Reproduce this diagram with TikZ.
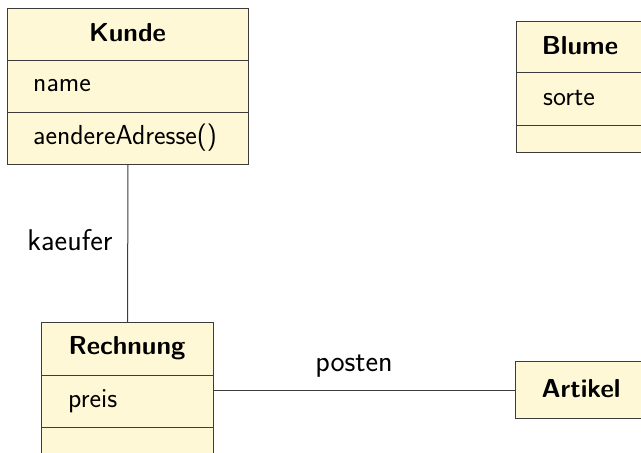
\documentclass[tikz,border=0pt]{standalone}
\usepackage{fontspec}
\setsansfont{Latin Modern Sans}
\definecolor{clsfill}{RGB}{255,248,214}
\definecolor{clsline}{RGB}{60,60,60}
\begin{document}
\begin{tikzpicture}[x=1pt,y=-1pt,
  font=\sffamily\fontsize{27.5}{32}\selectfont,
  clsbox/.style={draw=clsline,fill=clsfill,line width=1pt,inner sep=0pt,anchor=north west},
  sep/.style={draw=clsline,line width=1pt},
  title/.style={font=\sffamily\bfseries\fontsize{26}{30}\selectfont,inner sep=0pt},
  attr/.style={anchor=west,inner sep=0pt},
  lbl/.style={font=\sffamily\fontsize{30}{34}\selectfont,inner sep=0pt},
  conn/.style={draw=clsline,line width=1pt}]
\useasboundingbox (0,0) rectangle (641,453);
\begin{scope}
\clip (0,0) rectangle (641,453);
% Kunde
\node[clsbox,minimum width=241pt,minimum height=156pt] (kunde) at (7,8) {};
\draw[sep] (7,60) -- (248,60);
\draw[sep] (7,112) -- (248,112);
\node[title] (kundeT) at (127.5,33) {Kunde};
\node[attr] (kundeA) at (33,86) {name};
\node[attr] (kundeM) at (33,138) {aendereAdresse()};
% Blume
\node[clsbox,minimum width=130pt,minimum height=131pt] (blume) at (516,21) {};
\draw[sep] (516,72) -- (646,72);
\draw[sep] (516,125) -- (646,125);
\node[title] (blumeT) at (580,46) {Blume};
\node[attr] (blumeA) at (543,98) {sorte};
% Rechnung
\node[clsbox,minimum width=172pt,minimum height=150pt] (rechnung) at (41,322) {};
\draw[sep] (41,375) -- (213,375);
\draw[sep] (41,427) -- (213,427);
\node[title] (rechnungT) at (127,348) {Rechnung};
\node[attr] (rechnungA) at (68,401) {preis};
% Artikel
\node[clsbox,minimum width=132pt,minimum height=57pt] (artikel) at (515,361) {};
\node[title] (artikelT) at (581,389) {Artikel};
\end{scope}
% connectors
\draw[conn] (kunde.south) -- (rechnung.north);
\draw[conn] (artikel.west) -- (artikel.west -| rechnung.east);
\node[lbl] (kaeufer) at (70,240) {kaeufer};
\node[lbl] (posten) at (354,366) {posten};
\end{tikzpicture}
\end{document}
